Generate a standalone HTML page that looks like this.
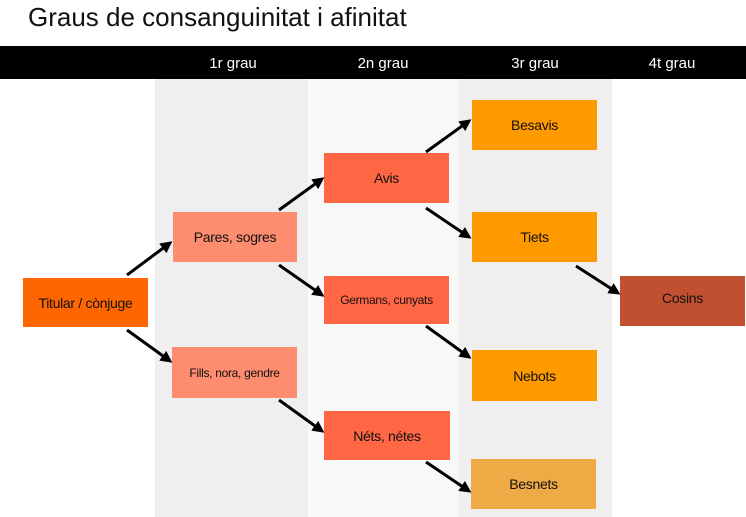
<!DOCTYPE html>
<html><head><meta charset="utf-8"><style>
body{margin:0;width:746px;height:517px;position:relative;background:#fff;font-family:"Liberation Sans",sans-serif;overflow:hidden}
.t{position:absolute;left:28px;top:2px;font-size:26px;color:#111}
.bar{position:absolute;left:0;top:46px;width:746px;height:33px;background:#000}
.h{position:absolute;top:55px;color:#fff;font-size:15px;width:150px;text-align:center}
.col{position:absolute;top:79px;height:438px}
.b{position:absolute;display:flex;align-items:center;justify-content:center;font-size:14px;color:#111;letter-spacing:-0.3px}
</style></head><body>
<div class="col" style="left:155px;width:153px;background:#efefef"></div>
<div class="col" style="left:308px;width:151px;background:#f8f8f8"></div>
<div class="col" style="left:459px;width:153px;background:#efefef"></div>
<div class="t">Graus de consanguinitat i afinitat</div>
<div class="bar"></div>
<div class="h" style="left:158px">1r grau</div>
<div class="h" style="left:308px">2n grau</div>
<div class="h" style="left:460px">3r grau</div>
<div class="h" style="left:597px">4t grau</div>
<div class="b" style="left:23px;top:278px;width:125px;height:49px;background:#ff6600">Titular / cònjuge</div>
<div class="b" style="left:173px;top:212px;width:124px;height:50px;background:#fe8c6e">Pares, sogres</div>
<div class="b" style="left:172px;top:347px;width:125px;height:51px;background:#fe8c6e;font-size:12px">Fills, nora, gendre</div>
<div class="b" style="left:324px;top:153px;width:125px;height:50px;background:#ff6644">Avis</div>
<div class="b" style="left:324px;top:276px;width:125px;height:48px;background:#ff6644;font-size:12px">Germans, cunyats</div>
<div class="b" style="left:324px;top:411px;width:126px;height:49px;background:#ff6644">Néts, nétes</div>
<div class="b" style="left:472px;top:100px;width:125px;height:50px;background:#ff9900">Besavis</div>
<div class="b" style="left:472px;top:212px;width:125px;height:50px;background:#ff9900">Tiets</div>
<div class="b" style="left:472px;top:350px;width:125px;height:51px;background:#ff9900">Nebots</div>
<div class="b" style="left:471px;top:459px;width:125px;height:50px;background:#eeaa44">Besnets</div>
<div class="b" style="left:620px;top:276px;width:125px;height:50px;background:#c0502f;padding-bottom:6px;box-sizing:border-box">Cosins</div>
<svg style="position:absolute;left:0;top:0" width="746" height="517">
<defs><marker id="a" markerWidth="12" markerHeight="12" refX="9" refY="6" orient="auto" markerUnits="userSpaceOnUse"><path d="M0,0 L12,6 L0,12 z" fill="#000"/></marker></defs>
<g stroke="#000" stroke-width="3" marker-end="url(#a)">
<line x1="127" y1="275" x2="170" y2="243"/>
<line x1="127" y1="330" x2="170" y2="361"/>
<line x1="279" y1="210" x2="322" y2="179"/>
<line x1="279" y1="265" x2="322" y2="295"/>
<line x1="279" y1="400" x2="322" y2="431"/>
<line x1="426" y1="152" x2="469" y2="121"/>
<line x1="426" y1="208" x2="469" y2="237"/>
<line x1="426" y1="326" x2="469" y2="357"/>
<line x1="426" y1="462" x2="469" y2="491"/>
<line x1="576" y1="266" x2="618" y2="293"/>
</g></svg>
</body></html>
